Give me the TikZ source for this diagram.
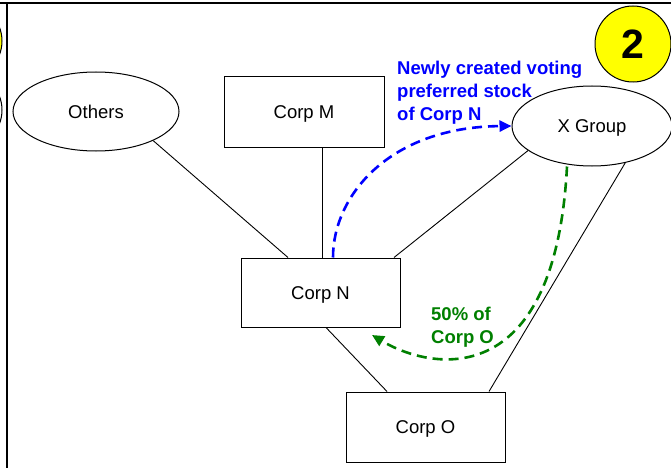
\documentclass[tikz,border=0pt]{standalone}
\usepackage{fontspec}
\setmainfont{Liberation Sans}
\usetikzlibrary{shapes.geometric,arrows.meta}
\definecolor{myblue}{RGB}{0,0,255}
\definecolor{mygreen}{RGB}{0,128,0}
\definecolor{myyellow}{RGB}{255,255,0}
\tikzset{
  box/.style={draw, line width=1pt, minimum width=160pt, minimum height=70pt, inner sep=0pt, text height=13.3pt, text depth=0pt, font=\fontsize{18.5}{22}\selectfont},
  oval/.style={draw, ellipse, line width=1pt, inner sep=0pt, text height=13.3pt, text depth=0pt, font=\fontsize{18.5}{22}\selectfont},
  link/.style={line width=0.9pt},
  bluearrow/.style={draw=myblue, line width=2.6pt, dash pattern=on 10pt off 6pt, -{Triangle[length=12pt,width=11pt]}},
  greenarrow/.style={draw=mygreen, line width=2.6pt, dash pattern=on 10pt off 6pt, -{Triangle[length=12pt,width=11pt]}},
  lbl/.style={font=\bfseries\fontsize{18.5}{23}\selectfont, align=left, inner sep=0pt, anchor=north west},
}
\begin{document}
\begin{tikzpicture}[x=1pt,y=-1pt]
\useasboundingbox (0,0) rectangle (671,468);
\fill[white] (0,0) rectangle (671,468);
% partial circles at left edge
\draw[fill=myyellow, line width=1pt] (-36,41) circle (38pt);
\draw[fill=white, line width=1pt] (-36,110) circle (38pt);
% frame lines
\draw[line width=2.5pt] (0,3) -- (671,3);
\draw[line width=2.5pt] (7,3) -- (7,468);
% number circle
\node[draw, circle, fill=myyellow, line width=1pt, minimum size=76pt, inner sep=0pt,
      text height=29pt, text depth=0pt,
      font=\bfseries\fontsize{41}{41}\selectfont] (num) at (633,44) {2};
% nodes
\node[oval, minimum width=166pt, minimum height=79pt] (others) at (96,111.5) {Others};
\node[box] (corpM) at (304,112) {Corp M};
\node[box, minimum width=159pt, minimum height=69pt] (corpN) at (320.5,292.5) {Corp N};
\node[oval, minimum width=160pt, minimum height=80pt] (xgroup) at (592,126) {X Group};
\node[box, minimum width=159pt] (corpO) at (425.5,427) {Corp O};
% connectors
\draw[link] (others.-27) -- ([xshift=-32.5pt]corpN.north);
\draw[link] ([xshift=18pt]corpM.south) -- ([xshift=18pt]corpM.south |- corpN.north);
\draw[link] (xgroup.-159) -- ([xshift=73.5pt]corpN.north);
\draw[link] (xgroup.-48) -- ([xshift=63.5pt]corpO.north);
\draw[link] ([xshift=5.5pt]corpN.south) -- ([xshift=-38.5pt]corpO.north);
% arrows
\draw[bluearrow] ([xshift=12.5pt]corpN.north) .. controls (333,195) and (390,127) .. (xgroup.west);
\coordinate (gtip) at (372,335);
\draw[greenarrow] ([xshift=-25pt]xgroup.south) .. controls (555,395) and (430,370) .. (gtip);
% labels
\node[lbl, text=myblue] (bluelbl) at (397,60.5) {Newly created voting\\preferred stock\\of Corp N};
\node[lbl, text=mygreen] (greenlbl) at (431,307) {50\% of\\Corp O};
\end{tikzpicture}
\end{document}
